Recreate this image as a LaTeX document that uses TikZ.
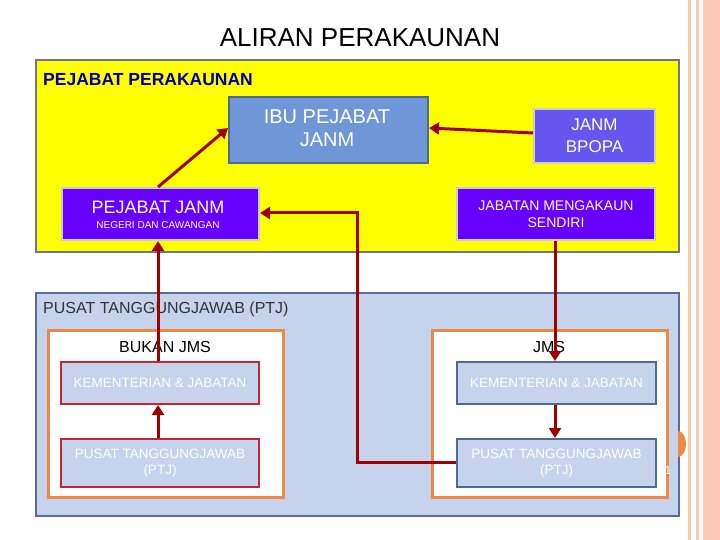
\documentclass[tikz,border=0pt]{standalone}
\usepackage{fontspec}
\setmainfont{Liberation Sans}
\usetikzlibrary{arrows.meta}
\definecolor{arr}{HTML}{A00000}
\definecolor{ylw}{HTML}{FFFF00}
\definecolor{frm}{HTML}{6A7A8A}
\definecolor{ibu}{HTML}{6F96D6}
\definecolor{ibub}{HTML}{4F6A90}
\definecolor{prp}{HTML}{6600FF}
\definecolor{bpo}{HTML}{6655EE}
\definecolor{ltb}{HTML}{C5D3EC}
\definecolor{ptjb}{HTML}{5A6A9A}
\definecolor{org}{HTML}{EE8844}
\definecolor{sal}{HTML}{FBC8B4}
\definecolor{rbd}{HTML}{C0283A}
\begin{document}
\begin{tikzpicture}[x=1pt,y=-1pt,
  box/.style={draw,line width=2pt,inner sep=0pt,anchor=north west,align=center,text=white},
  fl/.style={draw=arr,line width=3pt,-{Triangle[length=10pt,width=12pt]}}]
\fill[white] (0,0) rectangle (720,540);
\useasboundingbox (0,0) rectangle (720,540);
% decoration
\fill[sal] (703,0) rectangle (720,540);
\fill[sal] (688,0) rectangle (691,540);
\fill[sal] (696,0) rectangle (699,540);
\node[font=\fontsize{26}{30}\selectfont] (title) at (360,38) {ALIRAN PERAKAUNAN};
% yellow
\draw[draw=frm,fill=ylw,line width=2pt] (36,60) rectangle (679,252);
\node[anchor=west,text=blue!70!black,font=\fontsize{17.5}{20}\selectfont\bfseries,inner sep=0pt] (pp) at (43,80) {PEJABAT PERAKAUNAN};
\node[box,fill=ibu,draw=ibub,minimum width=199pt,minimum height=66pt] (ibu) at (228,96) {};
\node[align=center,text=white,font=\fontsize{20}{23}\selectfont] (ibut) at (327,128) {IBU PEJABAT\\JANM};
\node[box,fill=bpo,draw=black!20,minimum width=121pt,minimum height=54pt,font=\fontsize{17}{22}\selectfont] (bpo) at (533,108)
  {JANM\\BPOPA};
\node[box,fill=prp,draw=black!20,minimum width=197pt,minimum height=52pt] (pj) at (61,187) {};
\node[text=white,font=\fontsize{18}{20}\selectfont] (pjt) at (158,207) {PEJABAT JANM};
\node[text=white,font=\fontsize{10}{12}\selectfont] (pjs) at (158,225) {NEGERI DAN CAWANGAN};
\node[box,fill=prp,draw=black!20,minimum width=198pt,minimum height=52pt,font=\fontsize{14}{17}\selectfont] (jms0) at (456,187)
  {JABATAN MENGAKAUN\\SENDIRI};
% ptj
\draw[draw=ptjb,fill=ltb,line width=2pt] (36,293) rectangle (679,516);
\node[anchor=west,text=black!80,font=\fontsize{16}{18}\selectfont,inner sep=0pt] (ptj) at (43,309) {PUSAT TANGGUNGJAWAB (PTJ)};
\draw[draw=org,fill=white,line width=3pt] (48,330) rectangle (283,497);
\draw[draw=org,fill=white,line width=3pt] (432,330) rectangle (667,497);
\node[font=\fontsize{16}{18}\selectfont] (bj) at (165,347) {BUKAN JMS};
\node[font=\fontsize{16}{18}\selectfont] (jm) at (549,347) {JMS};
\node[box,fill=ltb,draw=rbd,minimum width=198pt,minimum height=42pt,font=\fontsize{13.5}{16}\selectfont] (kl) at (60,361)
  {KEMENTERIAN \& JABATAN};
\node[box,fill=ltb,draw=ibub,minimum width=199pt,minimum height=42pt,font=\fontsize{13.5}{16}\selectfont] (kr) at (456,361)
  {KEMENTERIAN \& JABATAN};
\node[box,fill=ltb,draw=rbd,minimum width=198pt,minimum height=48pt,font=\fontsize{13.5}{16}\selectfont] (pl) at (60,438)
  {PUSAT TANGGUNGJAWAB\\(PTJ)};
\node[box,fill=ltb,draw=ibub,minimum width=199pt,minimum height=48pt,font=\fontsize{13.5}{16}\selectfont] (pr) at (456,438)
  {PUSAT TANGGUNGJAWAB\\(PTJ)};
% page number
\fill[org] (678,457) arc [start angle=90,end angle=-90,x radius=8,y radius=13] -- cycle;
\node[text=white,inner sep=0pt,font=\fontsize{12}{12}\selectfont] (pg) at (668,470) {1};
% arrows
\draw[fl] (pj.north -| 158,0) -- (ibu.west |- 0,128);
\draw[fl] (bpo.west |- 0,133) -- (ibu.east |- 0,128);
\draw[fl] (kl.north -| 158,0) -- (pj.south -| 158,0);
\draw[fl] (pl.north -| 158,0) -- (kl.south -| 158,0);
\draw[fl] (pr.west |- 0,462) -- (357,462) -- (357,213) -- (pj.east |- 0,213);
\draw[fl] (jms0.south -| 555,0) -- (kr.north -| 555,0);
\draw[fl] (kr.south -| 555,0) -- (pr.north -| 555,0);
\end{tikzpicture}
\end{document}
